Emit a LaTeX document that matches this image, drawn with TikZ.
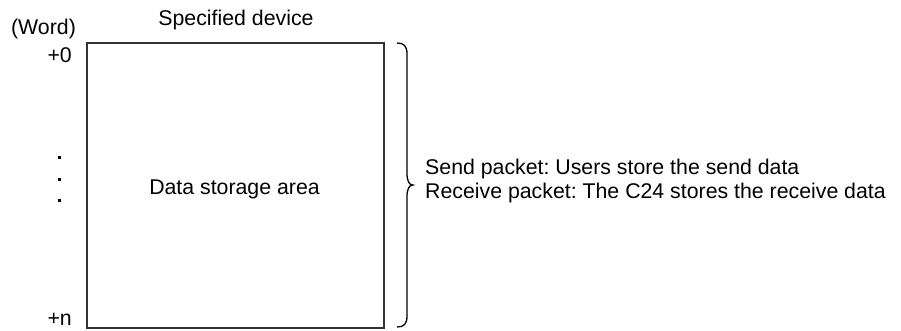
\documentclass[tikz,border=0pt]{standalone}
\usepackage{fontspec}
\setmainfont{Liberation Sans}
\frenchspacing
\begin{document}
\begin{tikzpicture}[x=1pt,y=-1pt,
  lbl/.style={inner sep=0pt,font=\fontsize{21.3}{24}\selectfont},
  framebox/.style={draw=black!80,line width=1.4pt},
  bracepath/.style={draw=black,line width=1.3pt},
  dotmark/.style={fill=black,inner sep=0pt,minimum size=3pt}]
\useasboundingbox (0,0) rectangle (901,331);
\node[framebox,minimum width=297pt,minimum height=285pt,inner sep=0pt] (box) at (235.5,185.5) {};
\node[lbl,anchor=base] (area) at (234.5,194) {Data storage area};
\node[lbl,anchor=base] (dev) at (236,26) {Specified device};
\node[lbl,anchor=base] (word) at (43.5,35) {(Word)};
\node[lbl,anchor=base east] (p0) at (72,63) {+0};
\node[lbl,anchor=base east] (pn) at (72,325) {+n};
\node[dotmark] (d1) at (59,158) {};
\node[dotmark] (d2) at (59,179) {};
\node[dotmark] (d3) at (59,200) {};
\coordinate (bt) at (397,43);
\coordinate (bb) at (397,327);
\coordinate (tip) at (413,185);
\draw[bracepath] (bt) .. controls (404,43) and (407,46) .. (407,54) -- (407,173)
  .. controls (407,181) and (409,185) .. (tip)
  .. controls (409,185) and (407,189) .. (407,197) -- (407,316)
  .. controls (407,324) and (404,327) .. (bb);
\node[lbl,anchor=base west] (send) at (425,175) {Send packet: Users store the send data};
\node[lbl,anchor=base west] (recv) at (425,198) {Receive packet: The C24 stores the receive data};
\end{tikzpicture}
\end{document}
